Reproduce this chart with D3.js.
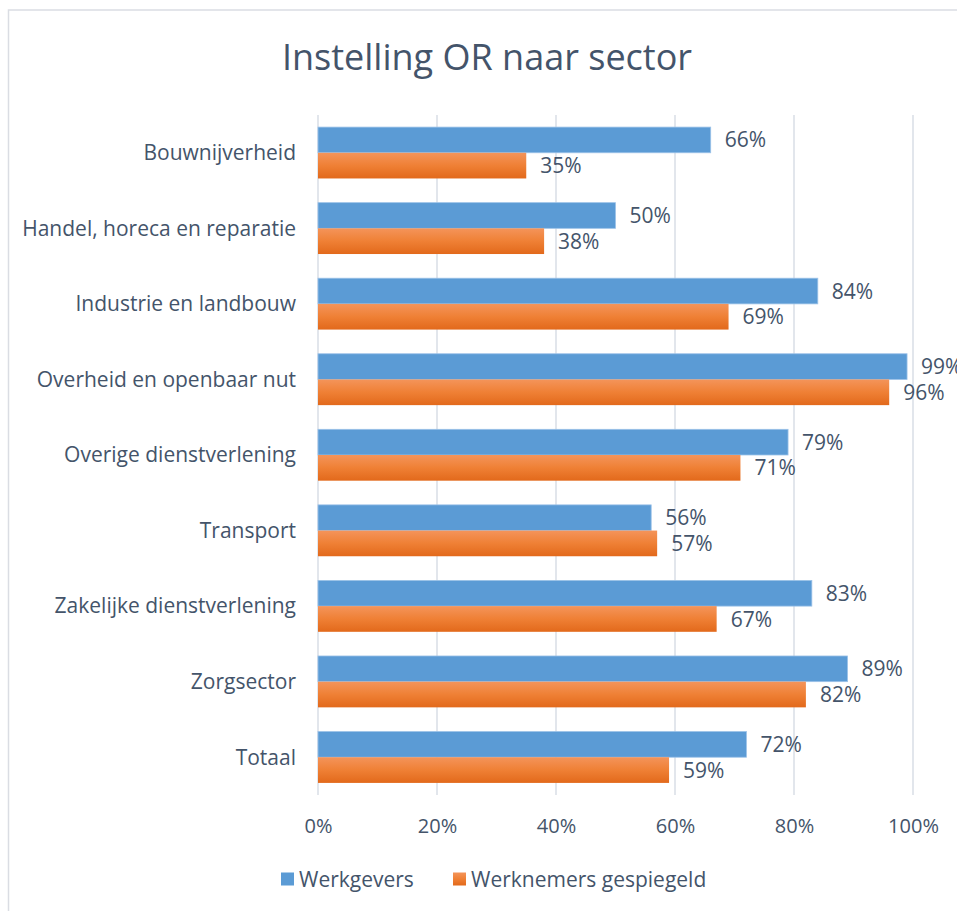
<!DOCTYPE html>
<html>
<head>
<meta charset="utf-8">
<script src="https://cdn.jsdelivr.net/npm/d3@7"></script>
<style>
  html, body { margin: 0; padding: 0; background: #fff; }
  svg { display: block; font-family: "Open Sans", sans-serif; }
</style>
</head>
<body>
<div id="chart"></div>
<script>
const categories = [
  'Bouwnijverheid',
  'Handel, horeca en reparatie',
  'Industrie en landbouw',
  'Overheid en openbaar nut',
  'Overige dienstverlening',
  'Transport',
  'Zakelijke dienstverlening',
  'Zorgsector',
  'Totaal'
];
const seriesNames = ['Werkgevers', 'Werknemers gespiegeld'];
const werkgevers = [66, 50, 84, 99, 79, 56, 83, 89, 72];
const werknemers = [35, 38, 69, 96, 71, 57, 67, 82, 59];
const xTicks = [0, 20, 40, 60, 80, 100];

const W = 957, H = 911;
const textColor = '#44546A';
const plot = { left: 318, right: 913, top: 115, bottom: 795 };

const rows = categories.map((c, i) => ({ cat: c, values: [werkgevers[i], werknemers[i]] }));

const svg = d3.select('#chart').append('svg')
  .attr('width', W).attr('height', H);

const defs = svg.append('defs');
const grad = defs.append('linearGradient')
  .attr('id', 'orangeGrad').attr('x1', 0).attr('y1', 0).attr('x2', 0).attr('y2', 1);
grad.append('stop').attr('offset', 0).attr('stop-color', '#F4945A');
grad.append('stop').attr('offset', 0.5).attr('stop-color', '#EF8035');
grad.append('stop').attr('offset', 1).attr('stop-color', '#E2691B');

// chart border
svg.append('rect')
  .attr('x', 8.5).attr('y', 10)
  .attr('width', W + 20).attr('height', H + 20)
  .attr('fill', 'none').attr('stroke', '#DADDE3').attr('stroke-width', 1.5);

// title
svg.append('text')
  .attr('x', 487).attr('y', 70)
  .attr('text-anchor', 'middle')
  .attr('font-size', '36px').attr('fill', textColor)
  .text('Instelling OR naar sector');

const x = d3.scaleLinear().domain([0, 100]).range([plot.left, plot.right]);
const y = d3.scaleBand().domain(categories).range([plot.top, plot.bottom])
  .paddingInner(0.32).paddingOuter(0.16);
const ySub = d3.scaleBand().domain([0, 1]).range([0, y.bandwidth()]);

// gridlines
svg.append('g')
  .selectAll('line')
  .data(xTicks)
  .join('line')
  .attr('x1', d => x(d)).attr('x2', d => x(d))
  .attr('y1', plot.top).attr('y2', plot.bottom)
  .attr('stroke', '#D9DEE6').attr('stroke-width', 1.5);

// x axis labels
svg.append('g')
  .attr('transform', `translate(0,${plot.bottom + 32})`)
  .call(d3.axisBottom(x).tickValues(xTicks).tickFormat(d => d + '%').tickSize(0))
  .call(g => g.select('.domain').remove())
  .call(g => g.selectAll('text')
    .attr('font-family', '"Open Sans", sans-serif')
    .attr('font-size', '20px').attr('fill', textColor)
    .attr('dy', '0.32em').attr('y', 0));

// y axis labels
svg.append('g')
  .attr('transform', `translate(${plot.left - 22},0)`)
  .call(d3.axisLeft(y).tickSize(0))
  .call(g => g.select('.domain').remove())
  .call(g => g.selectAll('text')
    .attr('font-family', '"Open Sans", sans-serif')
    .attr('font-size', '21px').attr('fill', textColor)
    .attr('x', 0).attr('dy', '0.35em'));

// bars
const groups = svg.append('g')
  .selectAll('g')
  .data(rows)
  .join('g')
  .attr('transform', d => `translate(0,${y(d.cat)})`);

groups.selectAll('rect')
  .data(d => d.values.map((v, i) => ({ v, i })))
  .join('rect')
  .attr('x', x(0))
  .attr('y', d => ySub(d.i))
  .attr('width', d => x(d.v) - x(0))
  .attr('height', ySub.bandwidth())
  .attr('fill', d => d.i === 0 ? '#5B9BD5' : 'url(#orangeGrad)')
  .attr('stroke', d => d.i === 0 ? '#9CC2E8' : 'none')
  .attr('stroke-width', 0.8);

groups.selectAll('text')
  .data(d => d.values.map((v, i) => ({ v, i })))
  .join('text')
  .attr('x', d => x(d.v) + 14)
  .attr('y', d => ySub(d.i) + ySub.bandwidth() / 2)
  .attr('dy', '0.36em')
  .attr('font-size', '21px').attr('fill', textColor)
  .text(d => d.v + '%');

// legend
const legendY = 879;
const legendItems = [
  { name: seriesNames[0], x: 281, fill: '#5B9BD5' },
  { name: seriesNames[1], x: 453, fill: 'url(#orangeGrad)' }
];
const lg = svg.append('g')
  .selectAll('g')
  .data(legendItems)
  .join('g')
  .attr('transform', d => `translate(${d.x},${legendY})`);
lg.append('rect')
  .attr('x', 0).attr('y', -6.5)
  .attr('width', 13).attr('height', 13)
  .attr('fill', d => d.fill);
lg.append('text')
  .attr('x', 18).attr('y', 0).attr('dy', '0.36em')
  .attr('font-size', '21px').attr('fill', textColor)
  .text(d => d.name);
</script>
</body>
</html>
